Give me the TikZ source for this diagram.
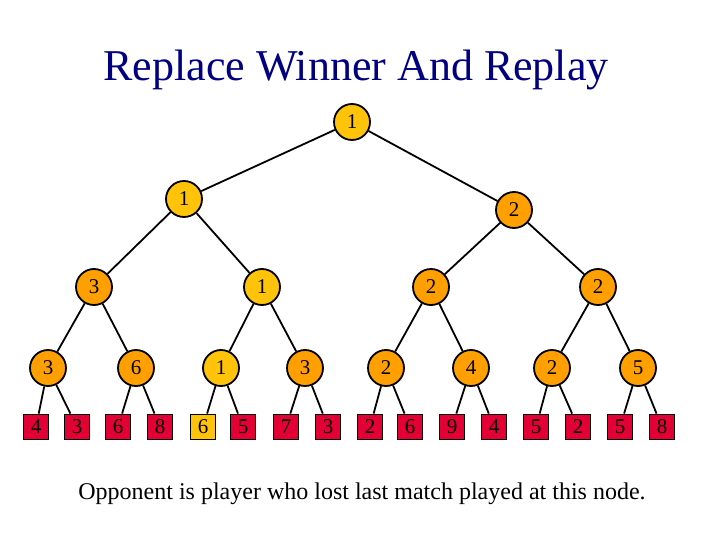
\documentclass[tikz,border=0pt]{standalone}
\usepackage{fontspec}
\setmainfont{Liberation Serif}
\usepackage{xcolor}
\usetikzlibrary{positioning}
\definecolor{gold}{RGB}{255,196,10}
\definecolor{amber}{RGB}{255,160,0}
\definecolor{leafred}{RGB}{226,0,52}
\definecolor{navy}{RGB}{0,0,128}
\tikzset{
  match/.style  = {circle, draw, line width=1.8pt, minimum size=36pt, inner sep=0pt,
                   fill=amber, font=\fontsize{21}{21}\selectfont},
  won/.style    = {match, fill=gold},
  player/.style = {rectangle, draw, line width=1.8pt, minimum size=25pt, inner sep=0pt,
                   fill=leafred, font=\fontsize{21}{21}\selectfont},
  champ/.style  = {player, fill=gold},
  edge/.style   = {line width=1.8pt},
}

\begin{document}
\begin{tikzpicture}[x=1pt, y=-1pt]
  \useasboundingbox (0,0) rectangle (720,540);
  \node[font=\fontsize{44}{44}\selectfont, text=navy] (title) at (356,70) {Replace Winner And Replay};

  % internal nodes
  \node[won]   (n1)  at (352,122) {1};
  \node[won]   (n2)  at (184,199) {1};
  \node[match] (n3)  at (514,210) {2};
  \node[match] (n4)  at (94,287)  {3};
  \node[won]   (n5)  at (262,287) {1};
  \node[match] (n6)  at (431,287) {2};
  \node[match] (n7)  at (598,287) {2};
  \node[match] (n8)  at (48,368)  {3};
  \node[match] (n9)  at (136,368) {6};
  \node[won]   (n10) at (221,368) {1};
  \node[match] (n11) at (305,368) {3};
  \node[match] (n12) at (386,368) {2};
  \node[match] (n13) at (471,368) {4};
  \node[match] (n14) at (552,368) {2};
  \node[match] (n15) at (638,368) {5};

  % players
  \node[player] (n16) at (36,427)  {4};
  \node[player] (n17) at (77,427)  {3};
  \node[player] (n18) at (118,427) {6};
  \node[player] (n19) at (160,427) {8};
  \node[champ]  (n20) at (203,427) {6};
  \node[player] (n21) at (243,427) {5};
  \node[player] (n22) at (286,427) {7};
  \node[player] (n23) at (328,427) {3};
  \node[player] (n24) at (370,427) {2};
  \node[player] (n25) at (410,427) {6};
  \node[player] (n26) at (452,427) {9};
  \node[player] (n27) at (494,427) {4};
  \node[player] (n28) at (536,427) {5};
  \node[player] (n29) at (578,427) {2};
  \node[player] (n30) at (620,427) {5};
  \node[player] (n31) at (662,427) {8};

  \draw[edge] (n1) -- (n2);   \draw[edge] (n1) -- (n3);
  \draw[edge] (n2) -- (n4);   \draw[edge] (n2) -- (n5);
  \draw[edge] (n3) -- (n6);   \draw[edge] (n3) -- (n7);
  \draw[edge] (n4) -- (n8);   \draw[edge] (n4) -- (n9);
  \draw[edge] (n5) -- (n10);  \draw[edge] (n5) -- (n11);
  \draw[edge] (n6) -- (n12);  \draw[edge] (n6) -- (n13);
  \draw[edge] (n7) -- (n14);  \draw[edge] (n7) -- (n15);
  \draw[edge] (n8) -- (n16);  \draw[edge] (n8) -- (n17);
  \draw[edge] (n9) -- (n18);  \draw[edge] (n9) -- (n19);
  \draw[edge] (n10) -- (n20); \draw[edge] (n10) -- (n21);
  \draw[edge] (n11) -- (n22); \draw[edge] (n11) -- (n23);
  \draw[edge] (n12) -- (n24); \draw[edge] (n12) -- (n25);
  \draw[edge] (n13) -- (n26); \draw[edge] (n13) -- (n27);
  \draw[edge] (n14) -- (n28); \draw[edge] (n14) -- (n29);
  \draw[edge] (n15) -- (n30); \draw[edge] (n15) -- (n31);

  \node[font=\fontsize{24}{24}\selectfont] (note) at (362,494) {Opponent is player who lost last match played at this node.};
\end{tikzpicture}
\end{document}
